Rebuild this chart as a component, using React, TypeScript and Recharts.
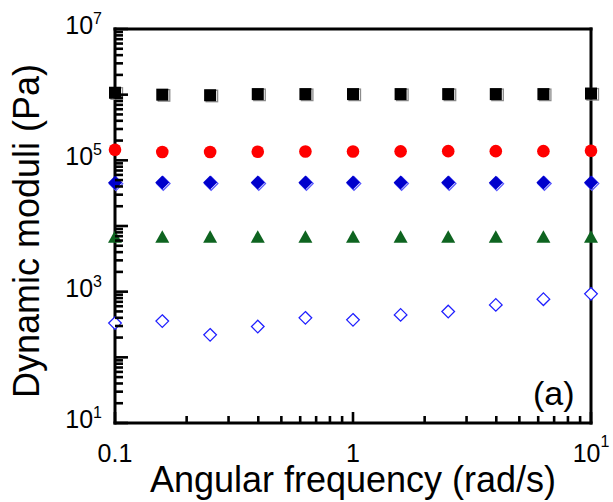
import React from 'react';
import { ScatterChart, Scatter, XAxis, YAxis, ReferenceDot } from 'recharts';

const FONT = '"Liberation Sans", Arial, Helvetica, sans-serif';

// angular frequency sweep (rad/s), five points per decade
const freq = [0.1, 0.158, 0.251, 0.398, 0.631, 1, 1.585, 2.512, 3.981, 6.31, 10];

// dynamic moduli (Pa) for each sample
const squareModuli = [1.07e6, 1.0e6, 0.98e6, 1.02e6, 1.02e6, 1.02e6, 1.02e6, 1.02e6, 1.02e6, 1.02e6, 1.04e6];
const circleModuli = [1.45e5, 1.34e5, 1.34e5, 1.35e5, 1.36e5, 1.36e5, 1.37e5, 1.38e5, 1.38e5, 1.38e5, 1.4e5];
const diamondModuli = [4.55e4, 4.6e4, 4.6e4, 4.6e4, 4.6e4, 4.6e4, 4.6e4, 4.6e4, 4.55e4, 4.6e4, 4.6e4];
const triangleModuli = [6.9e3, 6.95e3, 6.95e3, 6.95e3, 6.95e3, 6.95e3, 6.95e3, 6.95e3, 6.95e3, 6.95e3, 6.95e3];
const openDiamondModuli = [332, 356, 220, 294, 399, 372, 443, 498, 629, 769, 926];

// axis decades and labels
const xDecades = [0.1, 1, 10];
const yDecades = [10, 100, 1e3, 1e4, 1e5, 1e6, 1e7];
const xLabelValues = [0.1, 1, 10];
const xLabelBase = ['0.1', '1', '10'];
const xLabelSup = ['', '', '1'];
const yLabelValues = [10, 1e3, 1e5, 1e7];
const yLabelBase = ['10', '10', '10', '10'];
const yLabelSup = ['1', '3', '5', '7'];

const withMinors = (decades: number[]) =>
  decades.flatMap((d, i) =>
    i === decades.length - 1 ? [d] : [1, 2, 3, 4, 5, 6, 7, 8, 9].map((k) => k * d)
  );

const xTicks = withMinors(xDecades);
const yTicks = withMinors(yDecades);

const same = (a: number, b: number) => Math.abs(a / b - 1) < 1e-6;
const indexOfValue = (list: number[], v: number) => list.findIndex((d) => same(d, v));

const toPoints = (vals: number[]) => freq.map((x, i) => ({ x, y: vals[i] }));

const AXIS_LINE = { stroke: '#000', strokeWidth: 3, strokeLinecap: 'square' as const };

// inward tick marks, plus the labels on the bottom and left sides
function EdgeTick(props: any) {
  const { x, y, payload, side } = props;
  const v = payload.value;
  const horizontal = side === 'bottom' || side === 'top';
  const major = indexOfValue(horizontal ? xDecades : yDecades, v) >= 0;
  const len = horizontal ? (major ? 11 : 7) : major ? 13 : 8;

  let x2 = x;
  let y2 = y;
  if (side === 'bottom') y2 = y - len;
  if (side === 'top') y2 = y + len;
  if (side === 'left') x2 = x + len;
  if (side === 'right') x2 = x - len;

  let label = null;
  if (side === 'bottom') {
    const i = indexOfValue(xLabelValues, v);
    if (i >= 0) {
      label = (
        <text x={x} y={y + 39} textAnchor="middle" fontFamily={FONT} fontSize={25} fill="#000">
          <tspan>{xLabelBase[i]}</tspan>
          {xLabelSup[i] ? (
            <tspan dy={-15} fontSize={16}>
              {xLabelSup[i]}
            </tspan>
          ) : null}
        </text>
      );
    }
  }
  if (side === 'left') {
    const i = indexOfValue(yLabelValues, v);
    if (i >= 0) {
      label = (
        <text x={x - 13} y={y + 5} textAnchor="end" fontFamily={FONT} fontSize={25} fill="#000">
          <tspan>{yLabelBase[i]}</tspan>
          <tspan dy={-10} fontSize={16}>
            {yLabelSup[i]}
          </tspan>
        </text>
      );
    }
  }

  return (
    <g>
      <line x1={x} y1={y} x2={x2} y2={y2} stroke="#000" strokeWidth={2.6} />
      {label}
    </g>
  );
}

function XTitle(props: any) {
  const vb = props.viewBox;
  return (
    <text
      x={vb.x + vb.width / 2}
      y={vb.y + 69}
      textAnchor="middle"
      fontFamily={FONT}
      fontSize={36}
      fill="#000"
    >
      Angular frequency (rad/s)
    </text>
  );
}

function YTitle(props: any) {
  const vb = props.viewBox;
  const cx = vb.x + 39;
  const cy = vb.y + vb.height / 2 + 5;
  return (
    <text
      x={cx}
      y={cy}
      transform={`rotate(-90, ${cx}, ${cy})`}
      textAnchor="middle"
      fontFamily={FONT}
      fontSize={36}
      fill="#000"
    >
      Dynamic moduli (Pa)
    </text>
  );
}

function PanelTag(props: any) {
  const vb = props.viewBox;
  return (
    <text x={vb.x - 58} y={vb.y - 18} fontFamily={FONT} fontSize={34} fill="#000">
      (a)
    </text>
  );
}

// markers
function SquareMark({ cx, cy }: any) {
  return (
    <g>
      <rect x={cx - 4} y={cy - 5} width={11.5} height={11.5} fill="none" stroke="#8c8c8c" strokeWidth={1.3} />
      <rect x={cx - 6} y={cy - 6} width={12} height={12} fill="#000" />
    </g>
  );
}

function CircleMark({ cx, cy }: any) {
  return <circle cx={cx} cy={cy} r={6.3} fill="#ff0000" />;
}

const diamondPath = (cx: number, cy: number, h: number) =>
  `M${cx},${cy - h}L${cx + h},${cy}L${cx},${cy + h}L${cx - h},${cy}Z`;

function FilledDiamondMark({ cx, cy }: any) {
  return (
    <g>
      <path d={diamondPath(cx + 1, cy + 1, 6.8)} fill="none" stroke="#5a5aff" strokeWidth={1.2} />
      <path d={diamondPath(cx, cy, 7)} fill="#0000cc" />
    </g>
  );
}

function TriangleMark({ cx, cy }: any) {
  const w = 7;
  const h = 12.5;
  return (
    <path
      d={`M${cx},${cy - h / 2}L${cx + w},${cy + h / 2}L${cx - w},${cy + h / 2}Z`}
      fill="#0e6420"
    />
  );
}

function OpenDiamondMark({ cx, cy }: any) {
  return <path d={diamondPath(cx, cy, 6.3)} fill="#fff" stroke="#1f1fff" strokeWidth={1.3} />;
}

export default function App() {
  return (
    <div style={{ position: 'absolute', left: 0, top: 0, width: 613, height: 502, background: '#fff' }}>
      <ScatterChart width={613} height={502} margin={{ top: 29, right: 22, bottom: 0, left: 0 }}>
        <XAxis
          dataKey="x"
          type="number"
          scale="log"
          domain={[0.1, 10]}
          ticks={xTicks}
          interval={0}
          height={79}
          tickSize={0}
          tickMargin={0}
          tickLine={false}
          axisLine={AXIS_LINE}
          tick={(p: any) => <EdgeTick {...p} side="bottom" />}
          label={(p: any) => <XTitle {...p} />}
        />
        <XAxis
          xAxisId="top"
          orientation="top"
          mirror
          type="number"
          scale="log"
          domain={[0.1, 10]}
          ticks={xTicks}
          interval={0}
          tickSize={0}
          tickMargin={0}
          tickLine={false}
          axisLine={AXIS_LINE}
          tick={(p: any) => <EdgeTick {...p} side="top" />}
        />
        <YAxis
          dataKey="y"
          type="number"
          scale="log"
          domain={[10, 1e7]}
          ticks={yTicks}
          interval={0}
          width={115}
          tickSize={0}
          tickMargin={0}
          tickLine={false}
          axisLine={AXIS_LINE}
          tick={(p: any) => <EdgeTick {...p} side="left" />}
          label={(p: any) => <YTitle {...p} />}
        />
        <YAxis
          yAxisId="right"
          orientation="right"
          mirror
          type="number"
          scale="log"
          domain={[10, 1e7]}
          ticks={yTicks}
          interval={0}
          tickSize={0}
          tickMargin={0}
          tickLine={false}
          axisLine={AXIS_LINE}
          tick={(p: any) => <EdgeTick {...p} side="right" />}
        />
        <ReferenceDot
          x={10}
          y={10}
          r={0}
          ifOverflow="visible"
          fill="none"
          stroke="none"
          label={(p: any) => <PanelTag {...p} />}
        />
        <Scatter data={toPoints(openDiamondModuli)} shape={OpenDiamondMark} isAnimationActive={false} />
        <Scatter data={toPoints(triangleModuli)} shape={TriangleMark} isAnimationActive={false} />
        <Scatter data={toPoints(diamondModuli)} shape={FilledDiamondMark} isAnimationActive={false} />
        <Scatter data={toPoints(circleModuli)} shape={CircleMark} isAnimationActive={false} />
        <Scatter data={toPoints(squareModuli)} shape={SquareMark} isAnimationActive={false} />
      </ScatterChart>
    </div>
  );
}
